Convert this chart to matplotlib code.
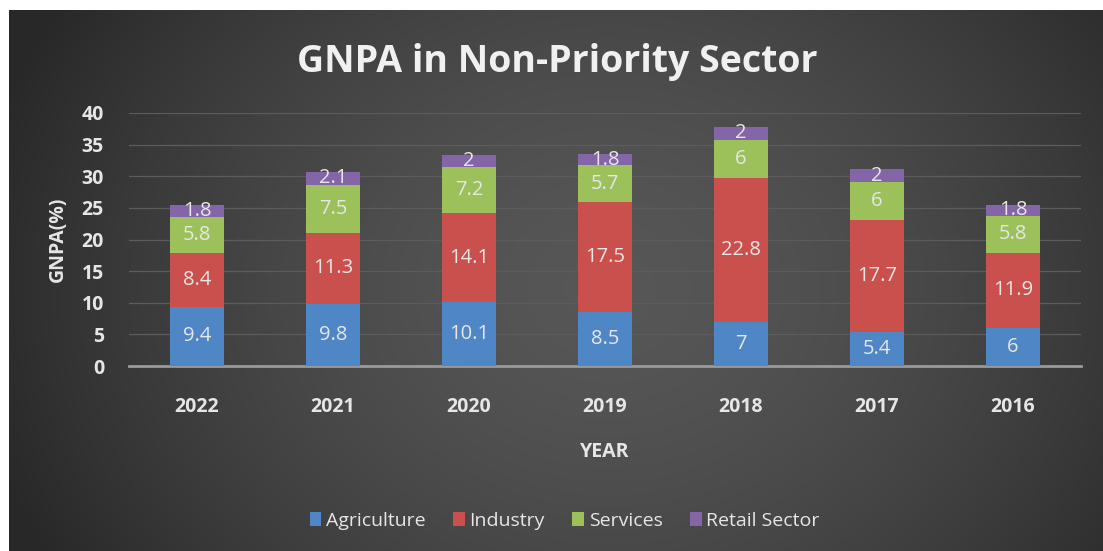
import numpy as np
import matplotlib.pyplot as plt

years = ['2022', '2021', '2020', '2019', '2018', '2017', '2016']
agriculture = [9.4, 9.8, 10.1, 8.5, 7, 5.4, 6]
industry = [8.4, 11.3, 14.1, 17.5, 22.8, 17.7, 11.9]
services = [5.8, 7.5, 7.2, 5.7, 6, 6, 5.8]
retail = [1.8, 2.1, 2, 1.8, 2, 2, 1.8]

series = [
    ('Agriculture', agriculture, '#4f86c6'),
    ('Industry', industry, '#c9504c'),
    ('Services', services, '#9cc15a'),
    ('Retail Sector', retail, '#8466a8'),
]

plt.rcParams['font.family'] = ['Open Sans', 'DejaVu Sans']
txt = '#e6e6e6'

W, H = 1103, 551
fig = plt.figure(figsize=(W / 100, H / 100), dpi=100)
fig.patch.set_facecolor('white')

# dark panel with a soft radial glow in the middle
bg = fig.add_axes([9 / W, 0, 1 - 9 / W, 1 - 10 / H])
yy, xx = np.mgrid[0:541, 0:1094]
r = np.sqrt(((xx - 600) / 620.0) ** 2 + ((yy - 280) / 520.0) ** 2)
shade = np.clip(0.34 - 0.17 * r ** 1.6, 0.16, 0.34)
bg.imshow(np.dstack([shade] * 3), aspect='auto', interpolation='bilinear')
bg.set_axis_off()

ax = fig.add_axes([129 / W, (H - 366) / H, (1081 - 129) / W, 253 / H])
ax.patch.set_alpha(0)

x = np.arange(len(years))
bottom = np.zeros(len(years))
for name, vals, color in series:
    vals = np.array(vals, dtype=float)
    ax.bar(x, vals, bottom=bottom, width=0.4, color=color, label=name, zorder=3)
    for xi, b, v in zip(x, bottom, vals):
        ax.text(xi, b + v / 2, f'{v:g}', ha='center', va='center',
                color=txt, fontsize=14.5, zorder=4)
    bottom += vals

ax.set_ylim(0, 40)
ax.set_xlim(-0.5, len(years) - 0.5)
ax.set_yticks(range(0, 41, 5))
ax.set_xticks(x)
ax.set_xticklabels(years)
ax.yaxis.grid(True, color='#5c5c5c', linewidth=0.9, zorder=0)
for s in ['top', 'right', 'left']:
    ax.spines[s].set_visible(False)
ax.spines['bottom'].set_color('#9a9a9a')
ax.spines['bottom'].set_linewidth(2)
ax.tick_params(length=0, colors=txt, labelsize=14)
for lbl in ax.get_xticklabels() + ax.get_yticklabels():
    lbl.set_fontweight('bold')
ax.tick_params(axis='x', pad=22)
ax.tick_params(axis='y', pad=18)

ax.set_xlabel('YEAR', color=txt, fontsize=14, fontweight='bold', labelpad=18)
ax.set_ylabel('GNPA(%)', color=txt, fontsize=14, fontweight='bold', labelpad=10)

fig.text(0.505, 1 - 62 / H, 'GNPA in Non-Priority Sector', ha='center', va='center',
         color='#f0f0f0', fontsize=27, fontweight='bold')

leg = fig.legend(loc='center', bbox_to_anchor=(0.512, 1 - 521 / H), ncol=4,
                 frameon=False, fontsize=14, handlelength=0.6, handleheight=0.7,
                 handletextpad=0.25, columnspacing=1.4)
for t in leg.get_texts():
    t.set_color(txt)

fig.savefig('out.png', dpi=100, facecolor=fig.get_facecolor())
